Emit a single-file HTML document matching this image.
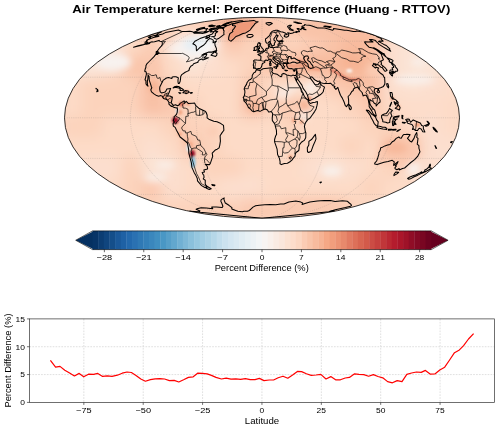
<!DOCTYPE html><html><head><meta charset="utf-8"><style>html,body{margin:0;padding:0;background:#fff;}svg{display:block;will-change:transform;}text{font-family:"Liberation Sans",sans-serif;}</style></head><body>
<svg width="500" height="429" viewBox="0 0 500 429">
<defs><clipPath id="ell"><ellipse cx="262.0" cy="117.8" rx="197.5" ry="100.5"/></clipPath>
<filter id="bl" x="-50%" y="-50%" width="200%" height="200%"><feGaussianBlur stdDeviation="7"/></filter>
<filter id="bl2" x="-50%" y="-50%" width="200%" height="200%"><feGaussianBlur stdDeviation="1.0"/></filter><filter id="bl3" x="-50%" y="-50%" width="200%" height="200%"><feGaussianBlur stdDeviation="3.5"/></filter>
</defs>
<text x="261.3" y="13.3" font-size="11.28" font-weight="bold" text-anchor="middle" textLength="378" lengthAdjust="spacingAndGlyphs">Air Temperature kernel: Percent Difference (Huang - RTTOV)</text>
<g clip-path="url(#ell)">
<ellipse cx="262.0" cy="117.8" rx="197.5" ry="100.5" fill="#fad8c6"/>
<g filter="url(#bl)">
<rect x="61.5" y="14.5" width="21" height="21.4" fill="#fbe6da"/>
<rect x="81.5" y="14.5" width="21" height="21.4" fill="#fae7dc"/>
<rect x="101.5" y="14.5" width="21" height="21.4" fill="#fae7dc"/>
<rect x="121.5" y="14.5" width="21" height="21.4" fill="#fdddcb"/>
<rect x="141.5" y="14.5" width="21" height="21.4" fill="#fcd3bc"/>
<rect x="161.5" y="14.5" width="21" height="21.4" fill="#fcd3bc"/>
<rect x="181.5" y="14.5" width="21" height="21.4" fill="#fcd3bc"/>
<rect x="201.5" y="14.5" width="21" height="21.4" fill="#fac8af"/>
<rect x="221.5" y="14.5" width="21" height="21.4" fill="#f3a481"/>
<rect x="241.5" y="14.5" width="21" height="21.4" fill="#f8bfa4"/>
<rect x="261.5" y="14.5" width="21" height="21.4" fill="#fac8af"/>
<rect x="281.5" y="14.5" width="21" height="21.4" fill="#fcd3bc"/>
<rect x="301.5" y="14.5" width="21" height="21.4" fill="#f8bfa4"/>
<rect x="321.5" y="14.5" width="21" height="21.4" fill="#f8bfa4"/>
<rect x="341.5" y="14.5" width="21" height="21.4" fill="#f8bfa4"/>
<rect x="361.5" y="14.5" width="21" height="21.4" fill="#f8bfa4"/>
<rect x="381.5" y="14.5" width="21" height="21.4" fill="#fac8af"/>
<rect x="401.5" y="14.5" width="21" height="21.4" fill="#fddbc7"/>
<rect x="421.5" y="14.5" width="21" height="21.4" fill="#fddbc7"/>
<rect x="441.5" y="14.5" width="21" height="21.4" fill="#fddbc7"/>
<rect x="61.5" y="34.9" width="21" height="21.4" fill="#fbe5d8"/>
<rect x="81.5" y="34.9" width="21" height="21.4" fill="#fae8de"/>
<rect x="101.5" y="34.9" width="21" height="21.4" fill="#fae7dc"/>
<rect x="121.5" y="34.9" width="21" height="21.4" fill="#fddbc7"/>
<rect x="141.5" y="34.9" width="21" height="21.4" fill="#fbccb4"/>
<rect x="161.5" y="34.9" width="21" height="21.4" fill="#fcdfcf"/>
<rect x="181.5" y="34.9" width="21" height="21.4" fill="#f8f2ef"/>
<rect x="201.5" y="34.9" width="21" height="21.4" fill="#fbe4d6"/>
<rect x="221.5" y="34.9" width="21" height="21.4" fill="#fac8af"/>
<rect x="241.5" y="34.9" width="21" height="21.4" fill="#fcd3bc"/>
<rect x="261.5" y="34.9" width="21" height="21.4" fill="#fbccb4"/>
<rect x="281.5" y="34.9" width="21" height="21.4" fill="#fcd3bc"/>
<rect x="301.5" y="34.9" width="21" height="21.4" fill="#fbccb4"/>
<rect x="321.5" y="34.9" width="21" height="21.4" fill="#f9c4a9"/>
<rect x="341.5" y="34.9" width="21" height="21.4" fill="#f8bb9e"/>
<rect x="361.5" y="34.9" width="21" height="21.4" fill="#f8bb9e"/>
<rect x="381.5" y="34.9" width="21" height="21.4" fill="#fcdfcf"/>
<rect x="401.5" y="34.9" width="21" height="21.4" fill="#fbe4d6"/>
<rect x="421.5" y="34.9" width="21" height="21.4" fill="#fce2d2"/>
<rect x="441.5" y="34.9" width="21" height="21.4" fill="#fcdecd"/>
<rect x="61.5" y="55.3" width="21" height="21.4" fill="#fce2d2"/>
<rect x="81.5" y="55.3" width="21" height="21.4" fill="#fae9df"/>
<rect x="101.5" y="55.3" width="21" height="21.4" fill="#fcdfcf"/>
<rect x="121.5" y="55.3" width="21" height="21.4" fill="#f9c4a9"/>
<rect x="141.5" y="55.3" width="21" height="21.4" fill="#fac8af"/>
<rect x="161.5" y="55.3" width="21" height="21.4" fill="#fddbc7"/>
<rect x="181.5" y="55.3" width="21" height="21.4" fill="#fbe4d6"/>
<rect x="201.5" y="55.3" width="21" height="21.4" fill="#fcdfcf"/>
<rect x="221.5" y="55.3" width="21" height="21.4" fill="#fddbc7"/>
<rect x="241.5" y="55.3" width="21" height="21.4" fill="#fcd3bc"/>
<rect x="261.5" y="55.3" width="21" height="21.4" fill="#f9c4a9"/>
<rect x="281.5" y="55.3" width="21" height="21.4" fill="#f8bb9e"/>
<rect x="301.5" y="55.3" width="21" height="21.4" fill="#f7b799"/>
<rect x="321.5" y="55.3" width="21" height="21.4" fill="#f8bb9e"/>
<rect x="341.5" y="55.3" width="21" height="21.4" fill="#f6af8e"/>
<rect x="361.5" y="55.3" width="21" height="21.4" fill="#f8bb9e"/>
<rect x="381.5" y="55.3" width="21" height="21.4" fill="#fcdfcf"/>
<rect x="401.5" y="55.3" width="21" height="21.4" fill="#fbe4d6"/>
<rect x="421.5" y="55.3" width="21" height="21.4" fill="#fbe4d6"/>
<rect x="441.5" y="55.3" width="21" height="21.4" fill="#fcdfcf"/>
<rect x="61.5" y="75.7" width="21" height="21.4" fill="#fddbc7"/>
<rect x="81.5" y="75.7" width="21" height="21.4" fill="#fcd3bc"/>
<rect x="101.5" y="75.7" width="21" height="21.4" fill="#fcd3bc"/>
<rect x="121.5" y="75.7" width="21" height="21.4" fill="#fcd3bc"/>
<rect x="141.5" y="75.7" width="21" height="21.4" fill="#f8bfa4"/>
<rect x="161.5" y="75.7" width="21" height="21.4" fill="#fcd3bc"/>
<rect x="181.5" y="75.7" width="21" height="21.4" fill="#fddbc7"/>
<rect x="201.5" y="75.7" width="21" height="21.4" fill="#fddbc7"/>
<rect x="221.5" y="75.7" width="21" height="21.4" fill="#fddbc7"/>
<rect x="241.5" y="75.7" width="21" height="21.4" fill="#fac8af"/>
<rect x="261.5" y="75.7" width="21" height="21.4" fill="#fddbc7"/>
<rect x="281.5" y="75.7" width="21" height="21.4" fill="#fddbc7"/>
<rect x="301.5" y="75.7" width="21" height="21.4" fill="#fddbc7"/>
<rect x="321.5" y="75.7" width="21" height="21.4" fill="#fbccb4"/>
<rect x="341.5" y="75.7" width="21" height="21.4" fill="#f9c4a9"/>
<rect x="361.5" y="75.7" width="21" height="21.4" fill="#f8bfa4"/>
<rect x="381.5" y="75.7" width="21" height="21.4" fill="#fcdfcf"/>
<rect x="401.5" y="75.7" width="21" height="21.4" fill="#fce2d2"/>
<rect x="421.5" y="75.7" width="21" height="21.4" fill="#fcdfcf"/>
<rect x="441.5" y="75.7" width="21" height="21.4" fill="#fdddcb"/>
<rect x="61.5" y="96.1" width="21" height="21.4" fill="#fddbc7"/>
<rect x="81.5" y="96.1" width="21" height="21.4" fill="#fcd3bc"/>
<rect x="101.5" y="96.1" width="21" height="21.4" fill="#fcd3bc"/>
<rect x="121.5" y="96.1" width="21" height="21.4" fill="#fcd3bc"/>
<rect x="141.5" y="96.1" width="21" height="21.4" fill="#f8bfa4"/>
<rect x="161.5" y="96.1" width="21" height="21.4" fill="#fac8af"/>
<rect x="181.5" y="96.1" width="21" height="21.4" fill="#fcd3bc"/>
<rect x="201.5" y="96.1" width="21" height="21.4" fill="#fddbc7"/>
<rect x="221.5" y="96.1" width="21" height="21.4" fill="#fddbc7"/>
<rect x="241.5" y="96.1" width="21" height="21.4" fill="#f8bfa4"/>
<rect x="261.5" y="96.1" width="21" height="21.4" fill="#fcd3bc"/>
<rect x="281.5" y="96.1" width="21" height="21.4" fill="#fac8af"/>
<rect x="301.5" y="96.1" width="21" height="21.4" fill="#fddbc7"/>
<rect x="321.5" y="96.1" width="21" height="21.4" fill="#fddbc7"/>
<rect x="341.5" y="96.1" width="21" height="21.4" fill="#fcd3bc"/>
<rect x="361.5" y="96.1" width="21" height="21.4" fill="#fac8af"/>
<rect x="381.5" y="96.1" width="21" height="21.4" fill="#fddbc7"/>
<rect x="401.5" y="96.1" width="21" height="21.4" fill="#fdddcb"/>
<rect x="421.5" y="96.1" width="21" height="21.4" fill="#fdddcb"/>
<rect x="441.5" y="96.1" width="21" height="21.4" fill="#fddbc7"/>
<rect x="61.5" y="116.5" width="21" height="21.4" fill="#fcd3bc"/>
<rect x="81.5" y="116.5" width="21" height="21.4" fill="#fcd3bc"/>
<rect x="101.5" y="116.5" width="21" height="21.4" fill="#fddbc7"/>
<rect x="121.5" y="116.5" width="21" height="21.4" fill="#fddbc7"/>
<rect x="141.5" y="116.5" width="21" height="21.4" fill="#fddbc7"/>
<rect x="161.5" y="116.5" width="21" height="21.4" fill="#fcd3bc"/>
<rect x="181.5" y="116.5" width="21" height="21.4" fill="#fcd3bc"/>
<rect x="201.5" y="116.5" width="21" height="21.4" fill="#fcd3bc"/>
<rect x="221.5" y="116.5" width="21" height="21.4" fill="#fddbc7"/>
<rect x="241.5" y="116.5" width="21" height="21.4" fill="#fddbc7"/>
<rect x="261.5" y="116.5" width="21" height="21.4" fill="#fddbc7"/>
<rect x="281.5" y="116.5" width="21" height="21.4" fill="#fcd3bc"/>
<rect x="301.5" y="116.5" width="21" height="21.4" fill="#fddbc7"/>
<rect x="321.5" y="116.5" width="21" height="21.4" fill="#fddbc7"/>
<rect x="341.5" y="116.5" width="21" height="21.4" fill="#fddbc7"/>
<rect x="361.5" y="116.5" width="21" height="21.4" fill="#fcd3bc"/>
<rect x="381.5" y="116.5" width="21" height="21.4" fill="#fcd3bc"/>
<rect x="401.5" y="116.5" width="21" height="21.4" fill="#fddbc7"/>
<rect x="421.5" y="116.5" width="21" height="21.4" fill="#fcdfcf"/>
<rect x="441.5" y="116.5" width="21" height="21.4" fill="#fddbc7"/>
<rect x="61.5" y="136.9" width="21" height="21.4" fill="#fddbc7"/>
<rect x="81.5" y="136.9" width="21" height="21.4" fill="#fddbc7"/>
<rect x="101.5" y="136.9" width="21" height="21.4" fill="#fddbc7"/>
<rect x="121.5" y="136.9" width="21" height="21.4" fill="#fddbc7"/>
<rect x="141.5" y="136.9" width="21" height="21.4" fill="#fcdfcf"/>
<rect x="161.5" y="136.9" width="21" height="21.4" fill="#fddbc7"/>
<rect x="181.5" y="136.9" width="21" height="21.4" fill="#fac8af"/>
<rect x="201.5" y="136.9" width="21" height="21.4" fill="#fcd3bc"/>
<rect x="221.5" y="136.9" width="21" height="21.4" fill="#fddbc7"/>
<rect x="241.5" y="136.9" width="21" height="21.4" fill="#fddbc7"/>
<rect x="261.5" y="136.9" width="21" height="21.4" fill="#fddbc7"/>
<rect x="281.5" y="136.9" width="21" height="21.4" fill="#fcd3bc"/>
<rect x="301.5" y="136.9" width="21" height="21.4" fill="#fddbc7"/>
<rect x="321.5" y="136.9" width="21" height="21.4" fill="#fddbc7"/>
<rect x="341.5" y="136.9" width="21" height="21.4" fill="#fcd3bc"/>
<rect x="361.5" y="136.9" width="21" height="21.4" fill="#fddbc7"/>
<rect x="381.5" y="136.9" width="21" height="21.4" fill="#f8bfa4"/>
<rect x="401.5" y="136.9" width="21" height="21.4" fill="#fac8af"/>
<rect x="421.5" y="136.9" width="21" height="21.4" fill="#fcdfcf"/>
<rect x="441.5" y="136.9" width="21" height="21.4" fill="#fcdfcf"/>
<rect x="61.5" y="157.3" width="21" height="21.4" fill="#fdddcb"/>
<rect x="81.5" y="157.3" width="21" height="21.4" fill="#fcdfcf"/>
<rect x="101.5" y="157.3" width="21" height="21.4" fill="#fcdfcf"/>
<rect x="121.5" y="157.3" width="21" height="21.4" fill="#fcd3bc"/>
<rect x="141.5" y="157.3" width="21" height="21.4" fill="#fbe4d6"/>
<rect x="161.5" y="157.3" width="21" height="21.4" fill="#fcdfcf"/>
<rect x="181.5" y="157.3" width="21" height="21.4" fill="#fddbc7"/>
<rect x="201.5" y="157.3" width="21" height="21.4" fill="#fcd3bc"/>
<rect x="221.5" y="157.3" width="21" height="21.4" fill="#fcd3bc"/>
<rect x="241.5" y="157.3" width="21" height="21.4" fill="#fddbc7"/>
<rect x="261.5" y="157.3" width="21" height="21.4" fill="#fddbc7"/>
<rect x="281.5" y="157.3" width="21" height="21.4" fill="#fddbc7"/>
<rect x="301.5" y="157.3" width="21" height="21.4" fill="#fcdfcf"/>
<rect x="321.5" y="157.3" width="21" height="21.4" fill="#fbe4d6"/>
<rect x="341.5" y="157.3" width="21" height="21.4" fill="#fcdfcf"/>
<rect x="361.5" y="157.3" width="21" height="21.4" fill="#fddbc7"/>
<rect x="381.5" y="157.3" width="21" height="21.4" fill="#fcd3bc"/>
<rect x="401.5" y="157.3" width="21" height="21.4" fill="#fcdfcf"/>
<rect x="421.5" y="157.3" width="21" height="21.4" fill="#fcdfcf"/>
<rect x="441.5" y="157.3" width="21" height="21.4" fill="#fcdfcf"/>
<rect x="61.5" y="177.7" width="21" height="21.4" fill="#fdddcb"/>
<rect x="81.5" y="177.7" width="21" height="21.4" fill="#fdddcb"/>
<rect x="101.5" y="177.7" width="21" height="21.4" fill="#fddbc7"/>
<rect x="121.5" y="177.7" width="21" height="21.4" fill="#fcd3bc"/>
<rect x="141.5" y="177.7" width="21" height="21.4" fill="#fac8af"/>
<rect x="161.5" y="177.7" width="21" height="21.4" fill="#fcdfcf"/>
<rect x="181.5" y="177.7" width="21" height="21.4" fill="#fddbc7"/>
<rect x="201.5" y="177.7" width="21" height="21.4" fill="#fddbc7"/>
<rect x="221.5" y="177.7" width="21" height="21.4" fill="#fcdfcf"/>
<rect x="241.5" y="177.7" width="21" height="21.4" fill="#fcdfcf"/>
<rect x="261.5" y="177.7" width="21" height="21.4" fill="#fddbc7"/>
<rect x="281.5" y="177.7" width="21" height="21.4" fill="#fddbc7"/>
<rect x="301.5" y="177.7" width="21" height="21.4" fill="#fddbc7"/>
<rect x="321.5" y="177.7" width="21" height="21.4" fill="#fddbc7"/>
<rect x="341.5" y="177.7" width="21" height="21.4" fill="#fddbc7"/>
<rect x="361.5" y="177.7" width="21" height="21.4" fill="#fcd3bc"/>
<rect x="381.5" y="177.7" width="21" height="21.4" fill="#fddbc7"/>
<rect x="401.5" y="177.7" width="21" height="21.4" fill="#fddbc7"/>
<rect x="421.5" y="177.7" width="21" height="21.4" fill="#fdddcb"/>
<rect x="441.5" y="177.7" width="21" height="21.4" fill="#fcdecd"/>
<rect x="61.5" y="198.1" width="21" height="21.4" fill="#fdddcb"/>
<rect x="81.5" y="198.1" width="21" height="21.4" fill="#fdddcb"/>
<rect x="101.5" y="198.1" width="21" height="21.4" fill="#fddcc9"/>
<rect x="121.5" y="198.1" width="21" height="21.4" fill="#fcd5bf"/>
<rect x="141.5" y="198.1" width="21" height="21.4" fill="#fcd3bc"/>
<rect x="161.5" y="198.1" width="21" height="21.4" fill="#fcd3bc"/>
<rect x="181.5" y="198.1" width="21" height="21.4" fill="#fcd3bc"/>
<rect x="201.5" y="198.1" width="21" height="21.4" fill="#fcd3bc"/>
<rect x="221.5" y="198.1" width="21" height="21.4" fill="#fcd3bc"/>
<rect x="241.5" y="198.1" width="21" height="21.4" fill="#fac8af"/>
<rect x="261.5" y="198.1" width="21" height="21.4" fill="#fcd3bc"/>
<rect x="281.5" y="198.1" width="21" height="21.4" fill="#fac8af"/>
<rect x="301.5" y="198.1" width="21" height="21.4" fill="#fac8af"/>
<rect x="321.5" y="198.1" width="21" height="21.4" fill="#fac8af"/>
<rect x="341.5" y="198.1" width="21" height="21.4" fill="#fcd3bc"/>
<rect x="361.5" y="198.1" width="21" height="21.4" fill="#fddbc7"/>
<rect x="381.5" y="198.1" width="21" height="21.4" fill="#fddbc7"/>
<rect x="401.5" y="198.1" width="21" height="21.4" fill="#fddbc7"/>
<rect x="421.5" y="198.1" width="21" height="21.4" fill="#fddcc9"/>
<rect x="441.5" y="198.1" width="21" height="21.4" fill="#fdddcb"/>
</g>
<g filter="url(#bl3)">
<path d="M189.6,211.3L194.7,211.5L199.4,211.7L200.0,210.9L196.1,209.3L198.0,208.4L201.1,207.8L206.4,208.0L212.8,208.7L211.7,207.1L216.4,207.0L222.2,207.4L222.9,206.2L221.9,203.5L220.8,201.1L221.2,199.6L224.2,197.9L223.9,199.1L224.5,201.1L225.3,203.0L228.9,205.3L231.9,207.6L231.8,208.9L235.7,210.5L237.9,211.3L242.4,211.7L243.9,211.3L247.5,211.3L249.3,210.5L250.6,209.3L253.0,207.1L255.6,205.8L259.3,205.3L264.8,204.7L270.3,204.4L275.8,204.7L280.6,204.0L284.0,204.0L288.9,202.1L295.8,201.1L300.9,202.1L302.7,203.0L302.1,204.4L305.0,203.5L309.9,202.1L317.3,201.1L324.2,200.6L330.4,200.6L335.1,201.4L342.5,200.8L347.5,201.3L349.3,203.0L351.0,204.4L351.5,205.3L350.6,206.2L345.4,207.6L335.3,209.7L331.0,210.9L329.3,211.5L334.4,211.3L262.0,218.3L262.0,218.3Z" fill="#facab1"/>
<path d="M380.7,147.8L381.7,147.6L384.9,145.9L387.6,145.1L390.0,144.5L392.2,141.8L393.8,141.1L396.2,138.4L398.8,137.0L400.1,138.1L401.2,138.2L402.6,135.7L403.7,134.6L405.5,134.4L407.0,134.3L409.5,134.4L410.1,134.7L407.5,138.4L408.7,139.7L410.5,141.6L411.7,141.9L414.0,138.4L415.2,135.0L416.7,132.5L417.1,135.0L416.7,137.4L418.0,138.4L417.6,141.8L417.2,144.1L418.9,145.7L418.9,148.2L419.4,149.8L420.0,151.8L417.6,156.4L414.6,159.7L410.8,162.5L408.4,164.6L404.6,168.0L402.5,168.4L399.3,169.9L399.2,168.5L396.9,169.7L395.1,168.7L394.9,167.8L396.4,165.9L395.2,165.6L396.8,164.2L398.1,161.6L396.1,163.2L393.7,165.4L393.7,164.6L394.3,161.9L392.2,160.3L388.1,161.4L384.0,162.3L380.9,163.3L377.1,164.6L374.8,164.1L374.7,163.1L376.6,161.0L377.8,157.7L379.0,153.8L378.7,152.9L380.1,150.5Z" fill="#fac8af"/>
<path d="M232.1,35.0L232.6,38.0L240.9,31.2L246.0,25.9L246.0,23.5L240.7,25.9Z" fill="#df765e"/>
<path d="M166.4,50.0L173.4,53.5L183.3,57.1L192.3,59.5L203.6,58.3L213.7,52.4L217.8,45.5L217.4,40.1L215.0,37.0L212.3,34.0L204.4,34.0L191.5,37.0L176.6,42.3Z" fill="#f8f2ef"/>
<ellipse cx="197.5" cy="44.4" rx="14" ry="7" fill="#e4eef4"/>
<ellipse cx="205.3" cy="47.8" rx="7" ry="5" fill="#f7f6f6"/>
<ellipse cx="113.3" cy="62.0" rx="18" ry="9" fill="#f8f2ef"/>
<ellipse cx="259.4" cy="29.4" rx="12" ry="4" fill="#f9c4a9"/>
<ellipse cx="153.2" cy="66.9" rx="6" ry="8" fill="#fac8af"/>
<ellipse cx="153.6" cy="86.4" rx="5" ry="6" fill="#f6af8e"/>
<ellipse cx="164.1" cy="37.0" rx="8" ry="3" fill="#fbccb4"/>
<ellipse cx="180.2" cy="128.8" rx="3" ry="4" fill="#f7b799"/>
<ellipse cx="187.0" cy="139.7" rx="3" ry="4" fill="#f6af8e"/>
<ellipse cx="191.5" cy="146.5" rx="3" ry="3" fill="#f6af8e"/>
<ellipse cx="213.1" cy="131.5" rx="4" ry="4" fill="#fac8af"/>
<ellipse cx="301.7" cy="66.9" rx="18" ry="5" fill="#f8bb9e"/>
<ellipse cx="304.5" cy="105.4" rx="4.5" ry="5" fill="#f3a481"/>
<ellipse cx="311.2" cy="87.8" rx="8" ry="6" fill="#f9eee7"/>
<ellipse cx="283.3" cy="93.2" rx="8" ry="5" fill="#f9ebe3"/>
<ellipse cx="293.4" cy="87.8" rx="5" ry="4" fill="#f9ebe3"/>
<ellipse cx="303.7" cy="116.4" rx="4" ry="4" fill="#f8f4f2"/>
<path d="M246.8,102.7L251.2,100.6L256.6,103.4L262.0,104.7L264.2,108.2L258.7,110.9L253.2,111.6L248.9,108.2Z" fill="#f6b394"/>
<ellipse cx="272.2" cy="39.1" rx="5" ry="5" fill="#fac8af"/>
<ellipse cx="309.3" cy="31.2" rx="25" ry="4" fill="#f9c4a9"/>
<ellipse cx="345.6" cy="73.3" rx="15" ry="5" fill="#f8bb9e"/>
<ellipse cx="373.5" cy="70.7" rx="8" ry="6" fill="#fbccb4"/>
<ellipse cx="414.4" cy="79.8" rx="20" ry="5" fill="#f9f0eb"/>
<ellipse cx="418.9" cy="62.0" rx="8" ry="5" fill="#f9eee7"/>
<ellipse cx="365.5" cy="90.5" rx="5" ry="5" fill="#f9c4a9"/>
<ellipse cx="387.1" cy="116.4" rx="4" ry="3" fill="#fac8af"/>
<ellipse cx="396.0" cy="147.8" rx="12" ry="6" fill="#f7b799"/>
<ellipse cx="413.4" cy="168.7" rx="6" ry="6" fill="#f8f2ef"/>
<ellipse cx="331.7" cy="171.2" rx="10" ry="4" fill="#f8f2ef"/>
<ellipse cx="155.9" cy="177.3" rx="12" ry="4" fill="#f9eee7"/>
<ellipse cx="165.0" cy="164.9" rx="10" ry="4" fill="#f9eee7"/>
</g>
<g filter="url(#bl2)">
<path d="M232.6,24.3L240.0,22.1L243.4,21.4L248.7,21.0L253.9,20.4L255.8,21.4L258.1,21.7L255.4,23.2L253.9,25.1L251.8,27.6L250.3,29.8L248.4,31.2L245.6,32.9L242.9,33.5L238.7,35.5L235.9,36.5L233.4,39.1L231.1,41.2L230.0,40.6L228.6,39.6L228.7,37.5L229.2,35.5L230.0,33.5L232.9,31.6L232.4,30.4L233.8,28.9L235.6,26.3L234.7,25.7L232.5,25.5Z" fill="#ef9979"/>
<ellipse cx="186.7" cy="91.8" rx="2" ry="1.5" fill="#ef9979"/>
<ellipse cx="169.3" cy="99.3" rx="2" ry="1.5" fill="#ef9979"/>
<ellipse cx="188.1" cy="104.1" rx="2" ry="1.5" fill="#ef9979"/>
<ellipse cx="164.4" cy="96.5" rx="2.5" ry="2" fill="#ef9979"/>
<ellipse cx="175.3" cy="120.3" rx="3.2" ry="3.4" fill="#991027"/>
<ellipse cx="179.8" cy="112.3" rx="2.5" ry="2.5" fill="#f3a481"/>
<ellipse cx="392.3" cy="98.6" rx="2" ry="2" fill="#f3a481"/>
<ellipse cx="398.3" cy="106.8" rx="2" ry="2" fill="#f6af8e"/>
<ellipse cx="192.3" cy="153.8" rx="2.8" ry="3.8" fill="#991027"/>
<ellipse cx="181.6" cy="104.1" rx="2.6" ry="2.6" fill="#df765e"/>
<ellipse cx="179.7" cy="134.3" rx="2" ry="2" fill="#f3a481"/>
<ellipse cx="190.2" cy="145.1" rx="2" ry="3" fill="#f3a481"/>
<ellipse cx="193.1" cy="162.3" rx="2.5" ry="6" fill="#90c4dd"/>
<ellipse cx="188.2" cy="147.8" rx="1.8" ry="4" fill="#ddebf2"/>
<ellipse cx="177.2" cy="110.9" rx="1.3" ry="3" fill="#d7e8f1"/>
<ellipse cx="270.7" cy="57.1" rx="2.5" ry="1.5" fill="#f3a481"/>
<ellipse cx="309.4" cy="98.6" rx="2" ry="2" fill="#ea8e70"/>
<ellipse cx="301.5" cy="121.9" rx="2" ry="2" fill="#f3a481"/>
<ellipse cx="293.8" cy="120.6" rx="2" ry="2" fill="#f3a481"/>
<ellipse cx="290.3" cy="157.1" rx="2" ry="2" fill="#f3a481"/>
<path d="M331.5,70.1L337.5,72.7L343.0,76.5L348.1,79.2L352.4,79.8L356.5,79.8L359.2,79.2" fill="none" stroke="#df765e" stroke-width="2.4" stroke-linecap="round" stroke-linejoin="round"/>
<path d="M287.3,65.7L295.0,66.3L301.2,65.1L305.2,65.7L309.7,68.2L314.7,68.8L319.7,69.5" fill="none" stroke="#ef9979" stroke-width="2.6" stroke-linecap="round" stroke-linejoin="round"/>
<path d="M298.1,60.7L301.9,61.3L306.0,62.6" fill="none" stroke="#ea8e70" stroke-width="2.2" stroke-linecap="round" stroke-linejoin="round"/>
<path d="M326.5,63.2L331.3,62.0L336.1,60.7L341.5,60.7" fill="none" stroke="#f7b799" stroke-width="2.0" stroke-linecap="round" stroke-linejoin="round"/>
<path d="M332.8,52.4L337.9,53.5L341.1,52.4L344.2,51.2" fill="none" stroke="#f7b799" stroke-width="2.0" stroke-linecap="round" stroke-linejoin="round"/>
<ellipse cx="349.3" cy="70.7" rx="3" ry="2" fill="#f9eee7"/>
<ellipse cx="417.4" cy="124.7" rx="3" ry="2" fill="#f3a481"/>
</g>
<path d="M134.2,194.4L389.8,194.4M81.3,158.4L442.7,158.4M64.5,117.8L459.5,117.8M81.3,77.2L442.7,77.2M134.2,41.2L389.8,41.2M262.0,218.3L242.6,217.2L231.3,215.5L221.9,213.5L213.7,211.3L206.3,208.9L199.5,206.2L193.2,203.5L187.3,200.6L181.9,197.6L176.8,194.4L172.0,191.2L167.6,187.8L163.4,184.4L159.5,180.9L155.9,177.3L152.5,173.6L149.4,169.9L146.6,166.1L143.9,162.3L141.6,158.4L139.4,154.5L137.5,150.5L135.8,146.5L134.4,142.4L133.1,138.4L132.1,134.3L131.3,130.2L130.8,126.1L130.4,121.9L130.3,117.8L130.4,113.7L130.8,109.5L131.3,105.4L132.1,101.3L133.1,97.2L134.4,93.2L135.8,89.1L137.5,85.1L139.4,81.1L141.6,77.2L143.9,73.3L146.6,69.5L149.4,65.7L152.5,62.0L155.9,58.3L159.5,54.7L163.4,51.2L167.6,47.8L172.0,44.4L176.8,41.2L181.9,38.0L187.3,35.0L193.2,32.1L199.5,29.4L206.3,26.7L213.7,24.3L221.9,22.1L231.3,20.1L242.6,18.4L262.0,17.3M262.0,218.3L252.3,217.2L246.6,215.5L242.0,213.5L237.9,211.3L234.1,208.9L230.7,206.2L227.6,203.5L224.7,200.6L221.9,197.6L219.4,194.4L217.0,191.2L214.8,187.8L212.7,184.4L210.8,180.9L208.9,177.3L207.3,173.6L205.7,169.9L204.3,166.1L203.0,162.3L201.8,158.4L200.7,154.5L199.7,150.5L198.9,146.5L198.2,142.4L197.6,138.4L197.1,134.3L196.7,130.2L196.4,126.1L196.2,121.9L196.2,117.8L196.2,113.7L196.4,109.5L196.7,105.4L197.1,101.3L197.6,97.2L198.2,93.2L198.9,89.1L199.7,85.1L200.7,81.1L201.8,77.2L203.0,73.3L204.3,69.5L205.7,65.7L207.3,62.0L208.9,58.3L210.8,54.7L212.7,51.2L214.8,47.8L217.0,44.4L219.4,41.2L221.9,38.0L224.7,35.0L227.6,32.1L230.7,29.4L234.1,26.7L237.9,24.3L242.0,22.1L246.6,20.1L252.3,18.4L262.0,17.3M262.0,218.3L262.0,217.2L262.0,215.5L262.0,213.5L262.0,211.3L262.0,208.9L262.0,206.2L262.0,203.5L262.0,200.6L262.0,197.6L262.0,194.4L262.0,191.2L262.0,187.8L262.0,184.4L262.0,180.9L262.0,177.3L262.0,173.6L262.0,169.9L262.0,166.1L262.0,162.3L262.0,158.4L262.0,154.5L262.0,150.5L262.0,146.5L262.0,142.4L262.0,138.4L262.0,134.3L262.0,130.2L262.0,126.1L262.0,121.9L262.0,117.8L262.0,113.7L262.0,109.5L262.0,105.4L262.0,101.3L262.0,97.2L262.0,93.2L262.0,89.1L262.0,85.1L262.0,81.1L262.0,77.2L262.0,73.3L262.0,69.5L262.0,65.7L262.0,62.0L262.0,58.3L262.0,54.7L262.0,51.2L262.0,47.8L262.0,44.4L262.0,41.2L262.0,38.0L262.0,35.0L262.0,32.1L262.0,29.4L262.0,26.7L262.0,24.3L262.0,22.1L262.0,20.1L262.0,18.4L262.0,17.3M262.0,218.3L271.7,217.2L277.4,215.5L282.0,213.5L286.1,211.3L289.9,208.9L293.3,206.2L296.4,203.5L299.3,200.6L302.1,197.6L304.6,194.4L307.0,191.2L309.2,187.8L311.3,184.4L313.2,180.9L315.1,177.3L316.7,173.6L318.3,169.9L319.7,166.1L321.0,162.3L322.2,158.4L323.3,154.5L324.3,150.5L325.1,146.5L325.8,142.4L326.4,138.4L326.9,134.3L327.3,130.2L327.6,126.1L327.8,121.9L327.8,117.8L327.8,113.7L327.6,109.5L327.3,105.4L326.9,101.3L326.4,97.2L325.8,93.2L325.1,89.1L324.3,85.1L323.3,81.1L322.2,77.2L321.0,73.3L319.7,69.5L318.3,65.7L316.7,62.0L315.1,58.3L313.2,54.7L311.3,51.2L309.2,47.8L307.0,44.4L304.6,41.2L302.1,38.0L299.3,35.0L296.4,32.1L293.3,29.4L289.9,26.7L286.1,24.3L282.0,22.1L277.4,20.1L271.7,18.4L262.0,17.3M262.0,218.3L281.4,217.2L292.7,215.5L302.1,213.5L310.3,211.3L317.7,208.9L324.5,206.2L330.8,203.5L336.7,200.6L342.1,197.6L347.2,194.4L352.0,191.2L356.4,187.8L360.6,184.4L364.5,180.9L368.1,177.3L371.5,173.6L374.6,169.9L377.4,166.1L380.1,162.3L382.4,158.4L384.6,154.5L386.5,150.5L388.2,146.5L389.6,142.4L390.9,138.4L391.9,134.3L392.7,130.2L393.2,126.1L393.6,121.9L393.7,117.8L393.6,113.7L393.2,109.5L392.7,105.4L391.9,101.3L390.9,97.2L389.6,93.2L388.2,89.1L386.5,85.1L384.6,81.1L382.4,77.2L380.1,73.3L377.4,69.5L374.6,65.7L371.5,62.0L368.1,58.3L364.5,54.7L360.6,51.2L356.4,47.8L352.0,44.4L347.2,41.2L342.1,38.0L336.7,35.0L330.8,32.1L324.5,29.4L317.7,26.7L310.3,24.3L302.1,22.1L292.7,20.1L281.4,18.4L262.0,17.3" fill="none" stroke="#777" stroke-width="0.6" stroke-dasharray="1.1,1.1" opacity="0.35"/>
<path d="M158.0,53.5L181.7,53.5L182.1,53.1L185.5,54.7L188.5,56.5L189.3,57.9L187.5,60.9L186.3,61.8L190.5,61.0L190.9,60.4L193.3,60.0L195.7,58.3L198.8,58.3L200.5,57.1L202.5,55.4L203.4,55.5L202.5,57.5L202.6,58.5M182.6,31.6L162.5,40.9L163.1,41.3L162.9,42.0L165.4,41.4L164.3,42.9L162.1,45.5L161.8,46.3M146.4,74.0L148.9,73.7L151.5,75.5L154.3,75.5L154.7,74.9L156.3,74.9L156.9,77.7L158.0,78.5L160.0,77.5L160.6,80.5L162.1,82.6M162.8,97.9L163.5,95.9L165.3,95.3L164.5,94.1L167.0,93.4L168.2,92.5M167.0,93.4L166.5,96.0L167.5,96.3M166.5,96.0L165.8,98.0L164.9,98.9M165.8,98.0L167.3,99.4M167.7,100.1L169.4,98.6L172.6,97.2M169.1,102.5L171.2,102.8M171.6,106.7L172.2,104.6M177.6,106.9L176.9,107.9M186.2,90.9L185.8,93.0M183.7,102.5L182.5,105.1L183.0,106.8L183.0,108.0L185.5,108.2L188.0,109.3L188.2,113.0L187.7,113.9L188.4,116.1L185.8,116.4L185.5,123.6M185.3,123.6L183.0,121.1L180.8,119.2L179.4,117.9L177.5,117.1L175.6,115.9M179.4,117.9L179.1,119.9L176.7,121.9L175.8,124.1L174.0,122.5M185.3,123.6L182.2,126.7L181.6,128.1L183.1,130.9L185.3,130.9L185.4,132.9L187.2,132.9L187.4,136.3L188.0,139.1L187.6,141.8L187.2,142.8M187.7,113.9L191.9,112.3L193.2,112.3L195.8,111.1L195.5,106.4M195.8,111.1L196.2,115.0L199.5,115.5L202.8,114.6L205.5,112.0M199.5,115.5L199.7,109.5M202.8,114.6L202.9,110.0M187.2,132.9L190.9,131.3L191.6,134.3L196.2,136.3L197.8,140.1L199.7,140.1L200.4,143.1L200.5,144.9L196.4,145.8L196.4,148.1L194.0,148.0L191.9,148.9L190.4,147.2L189.1,143.8L187.9,141.8M200.6,144.5L200.9,145.8L203.6,148.2L205.8,152.6L207.1,154.6L205.4,156.0L204.3,158.7L206.5,159.6L209.7,163.2M204.3,158.7L204.9,163.4M196.4,148.1L199.7,150.2L202.7,152.2L202.2,154.9L204.9,154.9L205.8,152.6M191.9,148.9L191.1,151.2L192.0,154.5L191.9,158.4L193.1,162.3L194.2,166.1L195.4,169.9L196.6,173.6L198.3,176.7L199.9,180.3L200.8,182.7L202.6,184.4L205.8,185.8M254.0,62.0L254.5,61.8L256.0,62.1L255.6,63.2L255.4,64.8L255.0,66.7L254.9,68.0M260.4,60.2L262.6,61.0L264.9,61.5M264.1,51.1L265.5,52.4L266.9,52.9L267.2,52.9L268.9,53.5L268.5,55.2L267.2,56.7L268.1,57.2L268.7,59.8M264.8,50.7L266.8,50.3L266.9,50.2L267.5,48.6M266.9,50.2L267.0,51.4L267.2,52.9M268.7,46.8L269.6,46.9M273.2,47.9L273.7,49.5L274.3,51.1L272.0,52.0L273.7,53.8L273.2,55.3L271.0,55.3L270.2,55.3L268.5,55.2M268.1,57.2L269.8,56.5L271.0,56.0L270.2,55.3M271.0,56.0L272.5,55.9L273.9,56.5L275.9,56.3L276.0,56.0L276.5,54.7L276.3,54.0L274.7,53.5L273.7,53.8M273.9,56.5L274.0,57.7L275.6,57.3L276.3,56.5L278.6,57.1L280.3,56.7L280.8,54.2L278.1,54.9L276.4,54.6M274.3,51.1L275.7,52.0L277.8,52.9L281.0,53.4L281.9,51.8L280.9,49.5L280.5,47.9L279.8,47.3L277.3,47.3M276.3,54.0L277.8,52.9M280.8,54.2L281.0,53.4M275.9,58.1L278.8,58.3L279.3,59.5L278.8,61.2M280.3,56.7L281.0,58.5L282.2,59.3L282.7,60.5L282.4,61.6M282.2,59.3L284.4,59.9L286.1,59.4L287.6,59.9M280.8,54.2L283.2,54.8L284.7,54.5L286.4,56.1L286.8,57.7L288.1,57.8M282.4,61.6L284.0,62.6L285.9,62.3L287.5,62.0M285.9,62.3L286.2,63.3M279.7,62.1L280.8,61.7L280.9,63.2L280.6,64.8M280.9,63.2L282.8,63.1L284.0,62.6M280.8,61.7L282.4,61.6M278.8,58.3L280.3,59.5L280.8,61.7M278.0,45.5L282.4,45.9M280.0,43.5L282.4,43.9L282.1,41.8M282.4,45.9L283.5,45.4L286.6,46.6L287.2,48.9L288.4,49.8M280.5,47.9L282.3,46.0M281.2,50.5L283.1,50.2L287.0,50.8L288.4,49.8L290.1,50.4L291.4,51.9L293.8,52.4L295.5,52.8L296.0,54.9L295.0,55.8M284.7,54.5L286.5,54.5L288.1,56.5L288.1,57.8M281.5,40.6L283.1,38.1L281.6,37.0L280.4,35.0L278.6,31.6L277.4,30.3M277.1,35.2L276.0,33.2L274.0,32.1L276.9,32.5L276.8,31.3L278.3,32.0M270.3,42.3L270.7,40.1L270.1,37.5L271.1,35.5L271.5,33.2L272.8,32.6L274.0,32.1M256.2,46.6L257.1,47.7M298.0,60.2L301.0,61.3L304.5,62.2L306.3,62.2M300.0,62.6L302.0,63.1L303.6,63.2L304.5,62.2M302.0,63.1L303.1,65.2L304.7,68.0L302.4,68.1L298.3,68.5L296.7,68.7M303.6,63.2L305.6,65.7L307.2,66.3L308.1,66.4M304.7,68.0L306.1,70.7L307.3,73.3L309.4,75.3L310.2,77.2M302.4,68.1L301.9,71.5L300.6,74.2L298.8,75.3L300.1,77.2L298.7,77.9L297.3,78.0M300.6,74.2L303.9,75.9L308.9,78.4L310.5,78.5M296.9,71.3L297.7,71.8L297.2,73.7L297.3,75.3L297.2,77.9M297.2,73.7L300.6,74.2M307.8,95.3L309.4,94.0L312.2,94.5L317.1,91.8L320.2,87.8L319.6,86.8L316.2,86.4L315.5,84.7M317.1,91.8L318.6,95.1M320.2,87.8L320.2,84.4M313.4,67.8L315.9,66.7L318.1,67.6L320.4,68.7L321.6,72.0L322.4,75.3L323.4,75.4L325.0,78.0L324.6,79.6L326.5,81.7L325.5,83.5M325.0,78.0L328.8,77.3L331.0,75.1L331.1,72.7L331.2,71.1L330.5,68.8L333.1,68.2M320.4,68.7L323.5,68.0L326.6,68.0L328.5,67.4L329.7,67.1L333.2,67.7M303.6,58.3L304.1,56.4L301.6,54.1L301.3,51.9L303.6,50.5L307.4,51.7L310.1,51.2L312.3,51.4L311.8,50.0L310.9,49.5L310.0,47.8L312.7,47.1L315.2,46.3L320.1,48.1L322.2,47.8L324.3,48.9L327.7,51.2L330.6,51.2L333.6,52.8L335.5,53.3M335.5,53.3L335.9,55.9L334.5,57.7L332.7,58.3L335.0,61.7M335.0,61.7L330.6,60.7L329.3,60.7L326.6,61.6L325.4,62.8L321.7,60.9L317.7,60.1L313.4,57.6L311.5,58.3L313.3,62.8M313.3,62.8L314.6,61.2L318.1,62.9L319.9,64.4L323.3,66.4L325.3,67.7M326.6,68.0L326.6,66.7L325.5,65.1L327.6,64.6L329.6,63.8L326.6,61.6M327.4,65.1L330.8,65.2M330.8,65.2L332.4,63.9L335.0,61.7M335.9,53.3L336.6,51.9L339.8,51.8L341.4,50.0L345.5,50.8L349.9,52.0L352.5,52.9L355.9,52.9L358.4,52.6L358.8,52.6M335.9,53.3L341.6,57.7L346.6,59.1L349.9,61.1L353.7,61.3L358.2,62.5L359.6,61.3L362.0,59.9L360.9,58.3L363.4,56.6L365.8,56.3L363.4,55.3L358.8,52.6M358.8,52.6L360.7,52.9L359.9,50.6L358.6,48.6L362.2,48.9L368.6,52.7L372.5,53.8L376.8,54.5L379.6,58.3L378.1,58.5L380.6,60.9L380.7,61.5M380.7,61.5L378.8,62.0L378.1,63.2L377.6,64.6M381.6,67.2L382.8,66.2M330.8,65.2L333.3,67.6L333.2,67.7L337.1,70.1M337.1,70.1L334.3,72.0L336.4,74.2L336.3,75.9L335.8,77.3L334.2,80.1L333.7,81.8L335.0,83.5L333.3,84.7M337.1,70.1L340.5,74.0L340.2,75.3L343.2,76.9L346.2,78.2L349.4,79.8L351.5,80.0L355.5,79.8L358.3,78.5L360.7,79.6M343.2,76.9L343.0,78.8L347.1,80.6L352.2,81.8L351.5,80.0M355.3,88.0L353.9,85.1L353.0,83.8L354.2,82.5L356.9,83.5L356.9,85.1L358.0,85.8L359.3,88.9M360.7,79.6L359.4,81.5L360.0,85.8L359.5,87.5L359.3,88.9M360.7,79.6L363.4,83.1L363.2,85.1L365.7,87.8L368.0,88.0L368.8,87.2L372.6,86.7L375.3,88.4M368.0,88.0L367.5,89.9L365.8,92.5L367.8,95.6L368.6,101.3L369.8,103.6M367.5,89.9L369.2,91.1L369.5,93.4L370.8,93.3L373.4,93.8L375.3,97.2L375.5,98.2L372.4,98.6L373.2,100.9M368.8,87.2L371.6,89.8L373.0,92.5L377.5,97.2L377.6,97.9L377.0,102.7L375.5,103.5M375.5,98.2L377.6,97.9M371.5,109.0L373.6,109.3M416.6,121.4L415.5,130.3M382.2,115.2L384.9,115.7L387.6,115.7L389.1,113.0L390.7,112.0M260.3,71.0L260.3,74.0L258.4,75.1L257.0,76.8L253.2,78.9L253.1,80.2L253.1,82.5L249.7,82.5L249.5,85.8L248.5,85.8L248.3,88.7L244.1,88.7M253.1,80.7L257.0,83.8L263.3,89.1L266.4,91.7L272.1,85.1L274.4,85.8L277.6,86.4L278.3,89.8L276.6,99.1M257.0,83.8L255.7,89.1L256.1,95.2L249.7,96.7L248.6,97.4L244.3,95.6M249.7,96.7L249.7,100.8L247.2,100.5L243.9,100.8M243.9,99.3L247.1,99.3L247.1,99.7L244.0,99.8M247.2,100.5L245.7,102.7M249.7,100.8L252.3,101.2L253.1,103.4L253.3,106.1L252.7,107.2L253.8,111.7M247.7,104.2L249.9,104.1L250.6,106.1L249.5,108.3M253.1,103.4L256.0,103.5L257.7,99.3L261.5,97.2L264.1,100.6L264.5,101.6L265.9,101.7M256.0,103.5L259.0,104.6L258.5,110.8M259.0,104.6L261.9,102.5L263.0,102.7L264.5,101.6M263.3,109.4L262.0,102.7M263.7,109.3L263.0,102.7M265.0,109.0L265.9,103.8L265.9,101.7L270.6,99.9L273.3,99.5L276.6,99.1M271.3,111.3L274.0,108.2L275.6,106.0L276.8,103.4L277.7,100.6L276.6,99.1M266.4,91.7L266.5,95.2L262.5,97.2L261.5,97.2M270.0,68.3L270.0,71.3L270.9,74.5L271.5,76.8L272.2,79.8L272.1,85.1M273.3,73.1L272.1,75.0L271.5,76.8M286.8,75.1L288.2,87.8L288.4,90.5L287.4,91.1L277.6,85.8M288.2,87.8L300.7,87.8M287.4,91.1L286.2,98.6L286.3,102.7L282.7,105.4L278.9,107.5L277.7,100.6M278.9,107.5L277.9,111.6L279.8,114.8M272.7,114.6L274.4,114.8L279.8,114.8L282.3,113.0L286.1,112.0L289.4,110.9L292.0,110.8M286.3,102.7L287.6,105.8L292.0,110.8M287.6,105.8L291.4,104.6L294.6,103.6L297.2,101.3L299.0,104.7L300.8,110.4M292.0,110.8L296.0,112.7L299.2,112.0L300.8,110.4M300.7,87.8L303.0,93.2L301.3,98.2L299.0,104.7M301.3,98.2L303.9,97.8L306.8,99.3L308.5,100.4M307.9,100.6L308.4,102.7L309.9,105.4L314.1,106.8L311.3,110.9L308.0,112.3M300.8,110.4L303.6,112.8L306.9,112.3L308.0,112.3M306.9,112.3L307.0,120.1M299.2,112.0L300.3,115.7L299.3,119.2M296.0,112.7L294.9,116.0L294.5,119.7L299.3,119.2L304.9,124.3M293.8,121.7L295.8,121.1L295.3,124.0M294.1,124.0L295.4,129.2L293.1,129.5L293.3,133.6L294.0,135.7L291.8,134.3L288.0,132.9L285.9,132.9L285.8,127.7L281.3,128.8L280.0,125.9L275.3,126.1M282.3,113.0L281.4,118.5L279.8,121.2L278.9,123.9L275.7,124.7M274.4,114.8L276.3,116.1L277.4,120.6L275.1,123.3L274.1,123.0M274.6,141.5L276.9,141.6L281.7,141.8L284.3,142.4L286.7,141.8L288.9,142.2M285.9,132.9L287.9,135.7L285.6,139.7L286.7,141.8M295.4,129.2L297.9,130.9L297.7,135.0L297.0,137.0L294.5,139.1M297.9,130.9L299.4,133.6L300.2,137.0L299.4,140.4L297.5,137.0M299.4,133.6L302.6,133.6L306.0,132.2M294.5,139.1L297.1,140.4L296.9,144.5L296.1,147.2L294.7,148.4M294.5,139.1L291.9,140.4L288.9,142.2L289.5,144.5L292.3,148.1L294.7,148.4M284.3,142.4L284.0,147.8L282.9,147.8L282.7,151.6M282.7,151.6L284.6,153.1L288.2,152.6L290.0,150.5L292.3,148.1M282.7,151.6L282.3,156.3L278.7,156.6M294.7,148.4L295.2,150.5L294.7,154.2M289.2,157.7L290.9,156.6L291.5,158.1L290.0,159.2L289.2,157.7" fill="none" stroke="#000" stroke-width="0.72" stroke-linejoin="round"/>
<path d="M319.9,182.3L321.5,182.1L320.5,182.9ZM205.5,32.1L207.8,31.6L205.9,32.6L204.4,32.8ZM217.1,25.9L219.9,25.5L216.9,26.6L216.6,26.3ZM218.4,26.3L220.1,26.1L217.8,27.0ZM209.0,25.5L212.4,25.1L210.5,25.9ZM222.8,27.9L224.0,28.0L222.5,28.6ZM205.7,38.6L207.7,38.2L207.6,37.7ZM256.3,69.7L260.1,70.6L263.0,68.8L264.9,68.5L267.7,68.2L271.0,67.8L272.5,68.2L271.9,69.5L272.6,70.1L271.7,71.6L272.8,73.1L273.8,73.4L277.0,74.2L278.9,75.6L281.0,76.8L281.9,75.9L281.8,74.5L283.3,73.4L284.7,73.8L286.8,74.9L289.4,75.5L291.4,75.9L292.8,75.1L294.2,75.6L296.0,75.5L297.1,77.9L296.9,79.8L296.8,80.1L295.9,79.0L294.7,77.3L296.1,80.5L296.8,81.8L298.8,85.1L300.6,87.8L301.5,91.8L303.0,93.2L304.4,96.5L306.2,98.6L308.5,100.4L308.8,102.0L310.3,103.5L313.0,102.5L315.1,102.3L317.4,101.6L317.4,103.4L317.0,105.4L316.1,108.9L314.6,111.6L312.4,114.8L309.7,118.5L308.1,119.2L307.0,120.6L305.8,122.3L304.9,124.3L304.4,126.7L304.9,128.8L305.3,131.5L305.9,132.9L305.7,137.7L304.2,140.4L301.4,142.2L299.2,145.1L299.2,147.8L298.8,150.5L296.0,152.5L295.4,153.8L294.9,156.4L293.1,158.4L291.9,160.1L289.6,162.0L287.4,163.3L284.5,163.6L281.4,164.6L280.0,163.8L280.1,161.6L279.4,158.4L277.6,154.5L277.1,149.2L276.0,145.8L274.6,141.8L274.6,139.5L275.5,136.3L276.6,134.3L276.4,130.2L275.3,126.1L275.1,124.7L274.1,123.0L272.4,120.6L272.2,118.5L272.4,116.4L272.7,113.7L271.9,112.3L271.3,111.6L269.1,111.9L268.6,111.9L267.5,110.1L265.3,109.1L263.1,109.7L260.9,110.9L259.8,111.3L257.6,110.6L253.8,111.7L252.1,110.9L250.0,108.7L248.4,107.5L247.5,105.4L246.3,103.4L245.7,102.7L244.0,101.0L243.6,97.9L243.2,97.6L244.3,95.9L244.9,92.5L244.8,90.5L244.1,89.1L244.8,87.1L246.5,84.4L247.1,82.5L248.8,80.3L250.3,79.6L252.1,77.9L252.3,75.3L253.7,72.9L255.4,72.0ZM315.4,134.3L316.0,138.8L315.2,141.1L313.1,145.8L311.2,151.2L308.7,152.5L307.5,151.7L307.3,147.8L308.8,145.1L308.9,141.4L311.8,139.3L313.7,136.6ZM156.4,35.4L162.6,34.0L165.4,32.6L171.9,31.2L178.5,30.0L179.6,30.4L181.3,31.2L182.8,31.5L185.7,31.6L189.7,31.2L191.4,31.6L193.2,32.1L194.1,33.1L197.1,33.1L200.0,33.1L202.2,33.5L205.8,32.8L212.3,29.6L211.6,30.7L210.4,32.1L214.0,31.6L212.3,34.0L209.7,35.0L205.9,36.5L199.9,38.6L194.9,41.2L192.9,43.9L194.5,44.4L196.3,46.4L196.3,48.9L196.5,50.8L200.3,47.2L203.8,45.0L205.8,42.8L207.2,40.6L209.4,38.6L211.5,39.1L213.3,40.1L213.1,42.8L216.5,40.9L214.8,43.3L215.1,45.5L215.9,47.2L216.5,48.9L216.3,50.6L212.2,52.1L208.8,52.1L206.3,52.9L204.1,53.8L201.9,55.3L206.8,54.1L206.2,55.9L203.8,57.9L205.6,57.9L208.4,57.7L205.5,58.9L202.8,59.9L201.5,59.0L199.2,60.0L197.7,62.0L198.0,62.3L196.4,62.7L193.6,63.7L192.6,65.2L191.2,65.9L189.6,68.0L188.9,70.5L187.1,71.4L185.2,72.3L181.8,74.6L180.7,76.5L180.5,79.2L180.1,81.5L179.2,83.5L178.3,83.4L178.0,81.8L178.0,79.8L178.4,77.9L177.2,77.2L175.9,76.7L173.9,76.7L172.3,76.9L171.8,78.5L170.3,78.1L168.5,77.5L166.5,78.0L163.3,80.1L161.9,82.7L159.8,87.1L159.7,89.1L160.2,91.8L161.5,92.9L164.3,92.3L165.5,91.8L166.9,89.1L170.7,88.4L169.1,92.5L167.5,95.9L169.9,96.1L172.4,97.2L171.6,101.3L171.1,102.7L173.3,105.4L175.5,104.7L177.6,105.8L179.3,104.7L180.0,103.4L181.8,102.4L184.1,100.9L185.0,102.7L184.4,103.4L186.2,101.3L188.2,103.4L192.5,103.2L194.7,103.1L195.6,105.4L198.7,108.2L201.9,109.7L205.1,111.2L206.1,112.3L207.2,115.3L207.1,117.8L208.8,119.2L213.8,121.2L217.0,121.8L219.8,122.9L223.5,125.4L223.9,130.2L221.9,132.9L220.1,135.7L220.4,141.1L219.8,145.1L219.1,147.8L217.2,149.2L215.2,150.1L212.2,153.1L212.7,156.4L211.6,159.7L210.5,162.9L209.6,164.6L207.1,164.6L205.2,164.2L207.3,166.5L207.6,168.9L203.8,169.9L204.5,172.0L202.1,172.4L203.0,174.3L203.7,174.9L204.1,177.3L203.2,178.9L205.3,180.3L205.2,183.6L205.7,185.0L206.8,185.9L206.1,186.7L205.3,187.8L201.6,185.6L197.5,180.9L197.3,178.5L195.6,174.9L194.1,172.4L191.9,167.4L191.4,162.9L190.2,158.4L188.8,153.1L188.7,149.8L187.5,143.1L185.8,141.5L180.1,137.0L178.7,134.3L176.5,130.2L175.2,127.4L173.4,126.1L173.0,123.7L174.3,121.9L173.3,120.6L174.2,117.8L174.1,116.7L175.3,115.7L176.5,114.4L177.2,112.3L177.5,108.9L176.8,107.9L174.3,107.6L173.1,106.8L171.0,106.2L168.9,104.1L169.0,102.4L167.5,99.9L166.0,99.3L163.5,98.6L162.3,96.3L160.9,95.6L158.6,96.3L156.6,95.6L154.3,94.1L151.5,91.8L150.8,89.8L151.8,87.8L151.2,86.2L150.5,83.8L149.8,81.8L149.2,79.8L149.1,76.5L148.1,75.0L147.9,78.5L147.3,81.8L147.5,84.8L148.0,86.2L147.3,85.6L146.0,84.0L145.9,80.5L145.0,79.8L145.9,76.5L146.4,74.0L146.2,72.0L144.7,71.3L145.3,68.7L145.9,67.2L145.9,65.7L146.8,63.9L148.7,62.0L153.8,56.9L156.0,54.2L157.2,54.5L159.1,52.9L158.3,52.0L157.2,51.2L159.7,47.8L161.3,46.1L162.3,44.4L162.3,43.0L162.0,41.6L159.8,41.2L159.0,40.4L154.5,41.7L152.6,42.0L152.0,41.7L146.0,43.9L140.8,45.5L136.5,46.6L133.5,47.2L138.1,45.7L143.5,44.4L147.8,42.6L144.9,42.3L147.4,41.0L146.5,40.3L150.7,38.6L153.5,37.6L158.1,36.5L158.9,36.2L155.7,36.5L154.8,36.4ZM206.9,186.2L211.2,188.8L209.3,189.5L206.4,188.2L206.9,187.3ZM211.8,184.6L214.9,185.0L214.7,185.8L212.7,185.6ZM232.6,24.3L240.0,22.1L243.4,21.4L248.7,21.0L253.9,20.4L255.8,21.4L258.1,21.7L255.4,23.2L253.9,25.1L251.8,27.6L250.3,29.8L248.4,31.2L245.6,32.9L242.9,33.5L238.7,35.5L235.9,36.5L233.4,39.1L231.1,41.2L230.0,40.6L228.6,39.6L228.7,37.5L229.2,35.5L230.0,33.5L232.9,31.6L232.4,30.4L233.8,28.9L235.6,26.3L234.7,25.7L232.5,25.5ZM247.3,37.0L246.9,35.5L248.5,34.6L252.2,34.5L253.2,35.5L252.6,36.6L250.1,37.6L248.2,37.2ZM256.6,69.5L255.9,68.5L254.9,68.0L253.5,68.2L253.7,66.1L253.2,65.1L254.0,62.6L253.6,60.7L254.8,59.9L257.1,60.1L259.3,60.2L260.7,60.2L260.9,57.7L261.0,56.7L260.1,55.7L258.2,54.8L257.9,54.4L259.5,53.8L260.6,53.9L260.9,52.7L262.0,53.1L263.2,52.1L264.1,51.1L264.9,50.7L265.4,50.0L265.8,48.9L266.8,48.3L267.6,48.3L268.7,48.2L268.6,46.3L268.1,44.6L269.9,43.7L269.8,45.0L269.7,46.6L270.6,47.5L271.8,47.3L273.0,47.8L274.5,47.4L276.4,46.9L277.3,47.3L278.2,46.4L278.0,45.0L278.0,44.1L278.7,43.7L280.0,44.4L279.8,43.0L278.9,42.0L280.6,41.6L282.1,41.7L283.2,41.2L282.0,40.5L280.7,40.8L278.4,41.3L277.0,40.3L276.4,38.6L277.1,37.2L277.9,36.0L278.2,35.8L277.1,35.2L276.1,35.2L275.8,36.5L274.6,37.7L273.9,38.8L274.0,40.1L275.3,41.2L275.3,41.9L274.3,43.5L274.5,45.0L273.1,45.5L272.0,46.2L271.6,45.3L270.7,43.3L270.1,42.3L269.5,41.4L268.2,43.1L266.8,43.2L266.0,42.3L265.5,40.1L265.5,38.9L267.0,38.0L267.9,37.0L269.0,36.2L269.8,35.0L270.4,33.5L271.0,32.6L271.9,31.6L272.8,31.1L274.6,30.6L275.9,30.2L277.4,30.3L279.1,31.0L280.7,31.7L282.6,32.1L285.7,33.3L287.2,34.5L284.4,35.0L284.3,36.5L286.3,37.2L288.1,36.4L288.9,34.8L287.7,32.8L289.0,32.9L290.6,33.4L293.1,32.9L293.4,32.3L295.4,32.2L296.9,32.6L296.1,31.4L299.5,31.8L298.9,30.3L297.1,28.6L298.7,28.6L301.0,29.8L301.2,29.1L301.5,28.0L303.9,29.4L306.0,29.8L302.4,28.0L304.1,27.6L301.9,26.7L302.0,26.3L303.6,25.8L304.5,25.5L304.6,24.5L306.2,24.9L309.3,25.3L311.3,25.7L317.6,27.9L320.2,28.0L322.9,27.9L324.6,28.0L328.2,29.0L332.6,30.3L333.3,29.7L333.7,29.1L333.4,28.6L336.8,29.1L341.5,29.8L344.5,30.3L346.6,30.3L349.6,30.7L353.2,31.6L355.8,31.5L356.3,31.1L360.0,31.4L365.5,32.2L376.8,36.0L376.6,36.4L381.4,38.6L381.2,39.3L383.1,41.2L379.4,41.0L378.5,41.4L383.8,44.4L386.3,45.5L387.4,46.6L389.8,48.9L389.5,49.5L390.8,51.2L387.5,49.5L382.7,46.6L378.3,43.9L378.4,43.3L376.0,41.4L375.6,40.6L371.9,39.6L369.5,39.6L373.0,42.0L370.4,41.8L368.5,41.9L364.7,41.8L364.8,42.7L366.9,45.1L369.0,47.2L372.9,48.0L376.7,50.0L381.3,54.1L381.9,56.0L383.4,59.8L381.7,60.7L380.9,61.6L381.5,63.2L381.0,64.4L385.5,68.2L387.1,70.4L385.5,71.3L384.6,71.0L382.3,67.6L380.8,67.2L378.4,64.9L374.9,63.8L376.1,65.8L373.7,63.4L373.3,64.7L372.4,65.7L374.0,66.9L375.4,68.0L376.3,67.2L378.7,68.0L377.9,69.1L377.9,70.7L380.6,73.3L383.0,75.0L384.1,77.2L384.6,77.5L384.8,80.5L384.9,82.7L384.7,84.4L383.4,86.4L381.2,87.4L378.5,88.4L378.5,90.1L377.1,88.4L375.3,88.4L374.4,89.8L374.1,91.8L375.5,93.8L378.4,96.5L380.0,99.9L380.1,102.0L378.2,103.5L376.2,106.0L376.1,104.1L374.4,103.4L372.9,101.3L370.9,100.4L369.8,99.3L369.7,103.4L371.3,106.4L372.9,108.4L374.7,110.2L375.4,112.3L376.3,115.9L375.4,116.0L373.2,113.9L371.8,110.9L369.2,106.8L369.1,104.1L368.2,99.3L366.2,95.2L364.6,95.2L363.2,95.9L362.1,92.5L360.2,90.5L358.5,88.4L357.5,86.8L356.7,87.5L354.8,88.0L353.4,89.1L353.3,90.5L351.8,91.5L350.1,94.5L348.1,96.5L348.6,99.9L348.7,103.6L347.2,105.6L346.5,106.7L345.3,105.6L344.1,102.0L342.2,97.9L340.5,95.2L339.2,91.8L338.2,88.7L337.8,87.4L335.9,89.4L334.2,87.4L335.0,86.6L333.2,85.8L331.8,84.4L330.5,83.2L328.5,83.5L325.4,83.5L322.8,83.2L320.9,82.7L319.7,81.0L317.8,81.5L315.5,80.3L313.8,79.0L312.5,77.2L310.9,76.8L310.2,77.5L311.0,79.2L312.6,81.1L313.4,82.3L314.5,84.0L315.4,84.8L318.0,84.8L319.2,83.1L319.8,82.2L320.3,83.9L321.7,85.4L324.5,87.1L323.6,89.8L323.2,91.8L322.1,93.2L321.0,94.2L317.9,96.3L314.7,98.2L311.1,99.9L309.0,100.4L308.0,97.2L307.5,95.2L305.7,91.8L303.1,88.4L301.9,85.1L300.2,82.7L298.1,79.8L297.1,77.9L296.0,75.5L296.5,73.6L296.6,71.5L296.7,70.1L296.7,68.7L296.0,68.7L294.6,69.1L293.2,69.3L291.2,68.6L289.8,68.7L288.2,68.2L287.0,66.3L286.5,64.4L288.7,63.2L290.5,63.1L293.0,62.0L294.9,62.3L297.0,63.3L300.0,62.6L299.8,61.1L298.0,60.2L295.8,59.0L294.6,58.1L293.3,58.1L291.8,58.9L290.6,57.8L291.5,57.1L289.5,56.4L288.7,56.5L288.2,57.9L287.7,59.5L287.2,61.0L287.6,62.5L288.7,63.1L287.3,63.2L286.5,63.7L286.0,63.4L284.1,63.4L283.3,63.8L282.9,63.8L283.6,65.7L284.7,66.7L284.0,67.1L283.8,68.8L282.7,68.5L282.1,67.3L282.3,66.6L281.2,65.3L280.0,63.8L279.7,62.2L278.8,61.3L276.8,60.1L275.5,59.1L274.8,58.1L274.1,58.2L273.8,57.5L272.8,57.9L273.1,59.3L274.3,60.1L275.7,62.0L276.8,62.2L279.2,64.2L277.7,63.8L277.4,65.1L278.1,65.8L277.1,66.9L276.9,66.9L276.8,65.1L275.7,64.2L274.9,63.4L273.5,62.6L272.0,61.3L271.1,59.6L269.9,59.0L268.7,59.8L267.4,60.6L266.0,60.1L264.7,60.7L264.9,62.0L263.8,62.9L262.7,63.2L262.0,64.7L261.7,66.3L261.2,67.4L260.0,68.6L257.8,68.6ZM158.5,32.2L161.7,31.7L157.9,33.4L157.6,34.1L156.4,35.0L154.3,35.5L149.9,36.7L149.8,36.0L149.0,35.7L147.2,36.0ZM303.7,58.5L304.6,56.5L306.1,55.9L307.9,56.1L308.8,58.1L307.6,58.9L308.0,60.6L310.1,62.0L311.0,63.6L312.7,65.7L313.3,67.8L310.8,68.6L308.6,67.6L307.9,64.2L305.8,62.0L304.9,60.7ZM257.3,52.2L259.1,52.0L261.2,51.5L263.1,51.0L263.4,49.4L262.2,48.4L261.8,47.5L260.8,46.3L260.5,45.6L259.7,45.5L260.1,45.0L260.7,43.8L259.4,43.7L259.8,42.7L258.4,42.7L257.8,43.9L257.5,45.0L257.8,46.1L258.3,46.9L259.5,46.8L259.3,47.4L259.6,48.4L258.4,48.6L258.4,49.1L258.8,49.8L257.7,50.3L258.7,50.5L259.6,50.6L259.1,51.0L258.3,51.1ZM257.0,49.8L257.2,48.3L257.3,47.4L257.6,47.1L257.2,46.4L256.2,46.3L255.4,46.9L254.2,47.5L254.2,48.7L254.8,48.9L253.9,50.0L253.6,50.5L255.5,50.5ZM266.3,23.9L268.4,25.1L269.6,25.1L270.9,24.3L272.3,23.5L270.8,22.6L268.4,22.6L266.0,23.0ZM289.8,29.8L292.6,30.6L293.3,30.3L290.7,28.9L289.5,27.2L290.2,26.3L291.5,25.3L289.7,25.2L288.2,25.9L287.5,26.7L288.6,28.0ZM298.1,23.5L299.4,23.3L301.6,23.5L295.6,22.1L293.7,22.1ZM323.8,26.3L329.7,27.6L331.2,26.7L325.1,25.9ZM373.7,47.8L377.1,49.5L382.9,53.5L383.9,53.5L385.2,55.9L386.2,57.1L383.2,54.7L378.8,51.2L374.7,48.6ZM390.3,62.6L391.0,62.3L392.6,62.0L393.0,60.4L391.3,59.5L386.9,57.7L387.9,58.9L389.6,60.7L389.1,61.3ZM391.2,62.6L393.0,63.8L395.2,65.7L395.2,66.7L397.1,68.8L397.7,69.9L397.6,70.9L396.7,71.3L395.2,71.3L395.3,71.6L394.8,72.7L393.3,71.3L392.0,71.5L391.0,72.2L390.0,72.0L389.8,71.1L390.4,70.0L392.8,70.0L392.1,67.8L393.6,67.6L393.5,66.3L391.8,64.1ZM389.4,72.5L390.1,72.2L392.1,74.0L392.6,75.9L391.6,75.5L390.0,73.7ZM392.4,73.3L392.5,71.5L393.6,72.0L393.6,72.9L393.0,73.6ZM386.8,83.5L388.0,83.8L388.7,86.4L388.5,87.9L387.2,86.4L386.7,84.4ZM377.0,91.5L378.1,90.3L379.4,91.0L379.3,92.5L378.0,92.8ZM390.1,92.5L391.8,92.5L392.4,94.5L392.3,96.5L393.4,98.6L395.9,99.9L394.6,99.3L392.4,98.9L391.6,97.8L390.5,95.9L390.3,93.8ZM395.2,108.2L396.7,107.1L398.3,104.6L400.1,107.5L399.7,109.1L399.2,110.1L397.8,109.3L395.5,108.4ZM396.6,100.6L398.2,102.3L397.9,104.1L396.9,103.6ZM394.1,101.6L395.7,103.0L395.9,105.1L395.1,104.3L394.4,103.1ZM389.7,106.2L391.5,102.3L391.4,103.4L390.1,106.4ZM381.6,115.7L382.2,115.0L384.3,114.1L386.4,113.4L388.4,110.9L389.6,108.3L390.7,109.5L392.4,110.5L391.2,111.9L390.8,113.3L392.0,116.4L390.9,117.1L389.9,119.9L389.7,122.6L387.5,123.0L385.9,122.2L384.2,121.9L382.8,121.8L382.7,119.9L381.6,117.8ZM366.3,110.1L368.7,110.6L372.0,114.4L373.3,115.0L375.6,117.1L376.6,119.9L378.2,121.9L377.7,125.8L376.3,125.8L374.1,123.3L372.8,120.6L371.2,117.8L370.0,115.0L368.3,112.6ZM376.9,127.2L377.9,126.1L380.4,126.5L382.7,127.3L385.0,127.3L386.9,128.5L386.6,129.6L383.0,129.1L380.4,128.5L378.3,128.0ZM388.5,129.2L391.7,129.2L391.6,129.9L388.3,130.2ZM392.5,129.6L396.1,129.2L396.0,130.0L392.7,130.2ZM396.8,131.5L398.1,130.2L400.4,129.4L398.0,131.0ZM392.3,121.7L392.7,125.4L393.7,125.5L394.0,121.4L394.8,124.4L396.1,124.3L395.0,122.9L394.7,121.4L396.3,119.2L397.3,118.9L394.7,119.6L393.9,117.8L393.8,117.1L395.5,116.4L398.6,116.1L399.2,115.7L398.5,117.1L394.5,117.2L393.4,117.8L393.0,120.6ZM401.9,115.3L403.0,115.7L402.4,117.8L403.0,118.9L402.0,118.2ZM402.3,122.2L405.4,122.6L404.4,123.2L402.5,122.8ZM405.7,119.6L407.9,118.9L409.2,119.2L410.5,122.3L413.2,119.9L416.6,121.4L420.3,123.0L421.7,125.4L423.3,126.1L423.4,128.8L424.9,132.0L422.8,131.8L421.2,129.1L419.1,128.3L417.4,130.6L415.5,130.5L413.6,128.9L412.4,129.4L413.4,126.7L412.0,124.4L410.2,123.9L407.7,123.3L406.7,121.7L408.4,121.0L406.8,120.8ZM424.5,125.4L426.2,125.0L428.5,124.0L428.3,125.4L426.0,126.3ZM427.0,121.2L428.6,122.2L429.6,124.0L429.0,124.0L427.5,121.9ZM433.0,127.2L434.4,128.1L436.6,130.9L437.4,132.0L435.9,131.4L433.7,129.1ZM435.0,145.4L436.6,148.2L436.0,148.4L435.0,145.9ZM450.9,141.8L452.4,141.5L451.5,142.7L450.6,142.4ZM380.7,147.8L381.7,147.6L384.9,145.9L387.6,145.1L390.0,144.5L392.2,141.8L393.8,141.1L396.2,138.4L398.8,137.0L400.1,138.1L401.2,138.2L402.6,135.7L403.7,134.6L405.5,134.4L407.0,134.3L409.5,134.4L410.1,134.7L407.5,138.4L408.7,139.7L410.5,141.6L411.7,141.9L414.0,138.4L415.2,135.0L416.7,132.5L417.1,135.0L416.7,137.4L418.0,138.4L417.6,141.8L417.2,144.1L418.9,145.7L418.9,148.2L419.4,149.8L420.0,151.8L417.6,156.4L414.6,159.7L410.8,162.5L408.4,164.6L404.6,168.0L402.5,168.4L399.3,169.9L399.2,168.5L396.9,169.7L395.1,168.7L394.9,167.8L396.4,165.9L395.2,165.6L396.8,164.2L398.1,161.6L396.1,163.2L393.7,165.4L393.7,164.6L394.3,161.9L392.2,160.3L388.1,161.4L384.0,162.3L380.9,163.3L377.1,164.6L374.8,164.1L374.7,163.1L376.6,161.0L377.8,157.7L379.0,153.8L378.7,152.9L380.1,150.5ZM395.7,172.0L398.7,172.3L396.9,173.9L393.9,175.6L394.1,174.3ZM430.2,164.1L430.5,165.5L429.5,167.4L431.4,168.3L428.2,170.2L425.3,171.8L422.5,173.1L422.5,172.7L424.9,171.2L424.6,170.3L427.2,168.7L429.0,166.8L429.5,165.1ZM421.8,171.8L421.5,173.3L418.4,174.9L416.7,175.8L414.2,176.7L411.3,178.4L408.8,179.2L407.6,178.5L409.4,177.3L412.4,176.1L416.1,174.7L419.8,172.9ZM348.9,104.3L350.5,106.1L351.3,107.5L351.2,109.0L350.1,109.7L349.3,108.4L348.9,106.5ZM173.1,87.9L174.3,86.8L176.6,86.2L178.6,86.4L180.8,88.0L182.5,89.0L183.8,90.2L180.1,90.6L180.2,89.5L179.7,88.3L177.7,87.8L176.2,87.4L174.6,87.5ZM183.0,92.5L185.2,90.6L188.0,90.9L189.4,92.3L187.6,92.9L185.9,93.7L184.9,92.9L182.9,92.8ZM178.8,92.6L180.9,92.9L180.0,93.6ZM190.6,92.5L192.3,92.6L191.8,93.2L190.5,93.2ZM216.7,55.3L215.5,56.4L214.0,55.9L211.1,55.2L212.7,53.5L215.0,51.5L216.8,50.5L215.5,52.6L217.0,53.2ZM157.0,54.2L156.1,53.5L156.3,51.4L156.9,51.8L157.4,52.9ZM218.5,38.6L224.1,34.4L223.9,33.4L223.8,31.9L224.2,30.9L223.5,30.3L223.5,29.0L222.5,28.6L222.4,27.9L218.6,28.3L217.0,29.8L214.5,31.0L216.4,31.4L217.7,31.6L215.3,33.5L215.4,35.5L214.4,36.4L211.6,36.8L213.5,36.6L214.4,38.2L215.8,38.9L216.8,39.3ZM205.5,37.0L209.0,37.4L210.0,36.3L208.5,35.5L206.5,36.0ZM194.3,32.1L196.8,32.6L201.2,32.1L204.3,31.8L206.3,30.6L206.4,29.8L207.7,28.5L205.2,28.9L204.8,28.2L201.3,28.9L198.5,30.0L197.5,30.9ZM196.4,29.4L200.8,28.0L204.6,27.3L204.4,28.2L200.4,29.2L196.5,30.0ZM208.8,26.3L210.0,26.7L214.0,26.2L215.3,25.7L213.2,25.6L210.5,25.7ZM211.2,28.5L214.3,27.9L211.7,29.4L209.0,29.8ZM214.6,28.3L218.2,27.6L215.9,28.9L213.3,29.4ZM222.1,25.5L227.3,25.5L224.1,27.2L218.7,27.0ZM223.4,25.5L225.2,25.7L228.5,25.3L232.0,23.7L234.7,23.2L237.8,22.4L241.4,21.7L243.1,21.2L242.2,20.7L239.3,20.7L233.0,21.7L230.2,22.4L228.5,23.5L225.8,24.3ZM222.8,24.7L227.5,23.9L231.9,21.8L227.3,22.8ZM96.8,91.8L98.2,91.1L97.6,90.2L96.9,91.0ZM97.1,89.3L97.8,89.4L97.3,89.7ZM96.0,88.3L96.4,88.7L96.0,88.7ZM273.7,66.9L276.7,66.6L276.4,68.6L273.9,67.4ZM269.6,63.2L271.0,63.3L271.0,65.6L269.9,65.7ZM269.8,60.9L270.6,61.0L270.4,62.7L269.9,62.1ZM284.7,70.1L287.5,70.5L285.8,70.9ZM293.3,70.7L295.4,70.0L294.6,71.3ZM146.6,44.2L149.7,43.4L149.7,43.1L147.8,43.5ZM148.5,37.6L149.8,37.8L150.6,37.3ZM189.6,211.3L194.7,211.5L199.4,211.7L200.0,210.9L196.1,209.3L198.0,208.4L201.1,207.8L206.4,208.0L212.8,208.7L211.7,207.1L216.4,207.0L222.2,207.4L222.9,206.2L221.9,203.5L220.8,201.1L221.2,199.6L224.2,197.9L223.9,199.1L224.5,201.1L225.3,203.0L228.9,205.3L231.9,207.6L231.8,208.9L235.7,210.5L237.9,211.3L242.4,211.7L243.9,211.3L247.5,211.3L249.3,210.5L250.6,209.3L253.0,207.1L255.6,205.8L259.3,205.3L264.8,204.7L270.3,204.4L275.8,204.7L280.6,204.0L284.0,204.0L288.9,202.1L295.8,201.1L300.9,202.1L302.7,203.0L302.1,204.4L305.0,203.5L309.9,202.1L317.3,201.1L324.2,200.6L330.4,200.6L335.1,201.4L342.5,200.8L347.5,201.3L349.3,203.0L351.0,204.4L351.5,205.3L350.6,206.2L345.4,207.6L335.3,209.7L331.0,210.9L329.3,211.5L334.4,211.3L262.0,218.3L262.0,218.3Z" fill="none" stroke="#000" stroke-width="1.05" stroke-linejoin="round"/>
</g>
<ellipse cx="262.0" cy="117.8" rx="197.5" ry="100.5" fill="none" stroke="#000" stroke-width="0.8"/>
<path d="M94.0,230.9L75.7,240.25L94.0,249.6Z" fill="#053061"/>
<path d="M429.8,230.9L448.1,240.25L429.8,249.6Z" fill="#67001f"/>
<rect x="92.50" y="230.9" width="6.00" height="18.70" fill="#073467"/>
<rect x="98.15" y="230.9" width="6.00" height="18.70" fill="#0c3d73"/>
<rect x="103.79" y="230.9" width="6.00" height="18.70" fill="#10457e"/>
<rect x="109.44" y="230.9" width="6.00" height="18.70" fill="#144e8a"/>
<rect x="115.09" y="230.9" width="6.00" height="18.70" fill="#1a5899"/>
<rect x="120.73" y="230.9" width="6.00" height="18.70" fill="#1e61a5"/>
<rect x="126.38" y="230.9" width="6.00" height="18.70" fill="#2369ad"/>
<rect x="132.03" y="230.9" width="6.00" height="18.70" fill="#2a71b2"/>
<rect x="137.67" y="230.9" width="6.00" height="18.70" fill="#2f79b5"/>
<rect x="143.32" y="230.9" width="6.00" height="18.70" fill="#3480b9"/>
<rect x="148.97" y="230.9" width="6.00" height="18.70" fill="#3a87bd"/>
<rect x="154.61" y="230.9" width="6.00" height="18.70" fill="#408fc1"/>
<rect x="160.26" y="230.9" width="6.00" height="18.70" fill="#4997c5"/>
<rect x="165.91" y="230.9" width="6.00" height="18.70" fill="#569fc9"/>
<rect x="171.55" y="230.9" width="6.00" height="18.70" fill="#62a7ce"/>
<rect x="177.20" y="230.9" width="6.00" height="18.70" fill="#71b0d3"/>
<rect x="182.85" y="230.9" width="6.00" height="18.70" fill="#7eb8d7"/>
<rect x="188.49" y="230.9" width="6.00" height="18.70" fill="#8ac0db"/>
<rect x="194.14" y="230.9" width="6.00" height="18.70" fill="#96c7df"/>
<rect x="199.79" y="230.9" width="6.00" height="18.70" fill="#a2cde3"/>
<rect x="205.43" y="230.9" width="6.00" height="18.70" fill="#acd2e5"/>
<rect x="211.08" y="230.9" width="6.00" height="18.70" fill="#b6d7e8"/>
<rect x="216.73" y="230.9" width="6.00" height="18.70" fill="#c2ddec"/>
<rect x="222.37" y="230.9" width="6.00" height="18.70" fill="#cce2ef"/>
<rect x="228.02" y="230.9" width="6.00" height="18.70" fill="#d4e6f1"/>
<rect x="233.67" y="230.9" width="6.00" height="18.70" fill="#dae9f2"/>
<rect x="239.31" y="230.9" width="6.00" height="18.70" fill="#e1edf3"/>
<rect x="244.96" y="230.9" width="6.00" height="18.70" fill="#e7f0f4"/>
<rect x="250.61" y="230.9" width="6.00" height="18.70" fill="#edf2f5"/>
<rect x="256.25" y="230.9" width="6.00" height="18.70" fill="#f3f5f6"/>
<rect x="261.90" y="230.9" width="6.00" height="18.70" fill="#f8f4f2"/>
<rect x="267.55" y="230.9" width="6.00" height="18.70" fill="#f9f0eb"/>
<rect x="273.19" y="230.9" width="6.00" height="18.70" fill="#f9ebe3"/>
<rect x="278.84" y="230.9" width="6.00" height="18.70" fill="#fae7dc"/>
<rect x="284.49" y="230.9" width="6.00" height="18.70" fill="#fce2d2"/>
<rect x="290.13" y="230.9" width="6.00" height="18.70" fill="#fdddcb"/>
<rect x="295.78" y="230.9" width="6.00" height="18.70" fill="#fcd7c2"/>
<rect x="301.43" y="230.9" width="6.00" height="18.70" fill="#fbccb4"/>
<rect x="307.07" y="230.9" width="6.00" height="18.70" fill="#f9c4a9"/>
<rect x="312.72" y="230.9" width="6.00" height="18.70" fill="#f8bb9e"/>
<rect x="318.37" y="230.9" width="6.00" height="18.70" fill="#f6b394"/>
<rect x="324.01" y="230.9" width="6.00" height="18.70" fill="#f5a886"/>
<rect x="329.66" y="230.9" width="6.00" height="18.70" fill="#f19e7d"/>
<rect x="335.31" y="230.9" width="6.00" height="18.70" fill="#ec9374"/>
<rect x="340.95" y="230.9" width="6.00" height="18.70" fill="#e8896c"/>
<rect x="346.60" y="230.9" width="6.00" height="18.70" fill="#e27b62"/>
<rect x="352.25" y="230.9" width="6.00" height="18.70" fill="#dd7059"/>
<rect x="357.89" y="230.9" width="6.00" height="18.70" fill="#d86551"/>
<rect x="363.54" y="230.9" width="6.00" height="18.70" fill="#d35a4a"/>
<rect x="369.19" y="230.9" width="6.00" height="18.70" fill="#cc4c44"/>
<rect x="374.83" y="230.9" width="6.00" height="18.70" fill="#c6413e"/>
<rect x="380.48" y="230.9" width="6.00" height="18.70" fill="#c13639"/>
<rect x="386.13" y="230.9" width="6.00" height="18.70" fill="#ba2832"/>
<rect x="391.77" y="230.9" width="6.00" height="18.70" fill="#b41c2d"/>
<rect x="397.42" y="230.9" width="6.00" height="18.70" fill="#ab162a"/>
<rect x="403.07" y="230.9" width="6.00" height="18.70" fill="#9f1228"/>
<rect x="408.71" y="230.9" width="6.00" height="18.70" fill="#900d26"/>
<rect x="414.36" y="230.9" width="6.00" height="18.70" fill="#840924"/>
<rect x="420.01" y="230.9" width="6.00" height="18.70" fill="#790622"/>
<rect x="425.65" y="230.9" width="5.65" height="18.70" fill="#6d0220"/>
<path d="M92.5,230.9L75.7,240.25L92.5,249.6L431.3,249.6L448.1,240.25L431.3,230.9Z" fill="none" stroke="#000" stroke-width="0.6"/>
<text x="104.36" y="260.2" font-size="7.55" text-anchor="middle" fill="#000" textLength="15.62" lengthAdjust="spacingAndGlyphs">−28</text>
<text x="143.77" y="260.2" font-size="7.55" text-anchor="middle" fill="#000" textLength="15.62" lengthAdjust="spacingAndGlyphs">−21</text>
<text x="183.18" y="260.2" font-size="7.55" text-anchor="middle" fill="#000" textLength="15.62" lengthAdjust="spacingAndGlyphs">−14</text>
<text x="222.59" y="260.2" font-size="7.55" text-anchor="middle" fill="#000" textLength="10.91" lengthAdjust="spacingAndGlyphs">−7</text>
<text x="262.00" y="260.2" font-size="7.55" text-anchor="middle" fill="#000" textLength="4.71" lengthAdjust="spacingAndGlyphs">0</text>
<text x="301.41" y="260.2" font-size="7.55" text-anchor="middle" fill="#000" textLength="4.71" lengthAdjust="spacingAndGlyphs">7</text>
<text x="340.82" y="260.2" font-size="7.55" text-anchor="middle" fill="#000" textLength="9.42" lengthAdjust="spacingAndGlyphs">14</text>
<text x="380.23" y="260.2" font-size="7.55" text-anchor="middle" fill="#000" textLength="9.42" lengthAdjust="spacingAndGlyphs">21</text>
<text x="419.64" y="260.2" font-size="7.55" text-anchor="middle" fill="#000" textLength="9.42" lengthAdjust="spacingAndGlyphs">28</text>
<path d="M104.36,249.6L104.36,252.2M143.77,249.6L143.77,252.2M183.18,249.6L183.18,252.2M222.59,249.6L222.59,252.2M262.00,249.6L262.00,252.2M301.41,249.6L301.41,252.2M340.82,249.6L340.82,252.2M380.23,249.6L380.23,252.2M419.64,249.6L419.64,252.2" stroke="#000" stroke-width="0.6"/>
<text x="261.7" y="271.2" font-size="8.48" text-anchor="middle" textLength="94.1" lengthAdjust="spacingAndGlyphs">Percent Difference (%)</text>
<path d="M83.84,318.9L83.84,402.4M143.21,318.9L143.21,402.4M202.58,318.9L202.58,402.4M261.95,318.9L261.95,402.4M321.33,318.9L321.33,402.4M380.70,318.9L380.70,402.4M440.07,318.9L440.07,402.4M29.46,374.57L494.45,374.57M29.46,346.73L494.45,346.73" stroke="#d2d2d2" stroke-width="0.7" stroke-dasharray="1.7,1.2"/>
<path d="M50.4,360.4L55.6,367.2L60,366.4L64.8,370.2L69.6,373L74.4,376L79.2,373.4L83.7,376.8L88.5,374.2L93.6,374.4L97.8,373.4L102.6,376.4L107.2,375.8L112,376.4L117.4,375.2L122.2,373.2L127,372L131.4,372.5L136,375.4L140.8,379L145.4,381.2L150.4,379.6L155.2,378.8L159.8,378.6L164.6,379L169.4,380.6L174.2,380.4L178.8,382L183.6,379.8L188.4,377.4L193.2,376.8L197.6,373.2L202.4,373.4L207.2,373.9L211.4,375.4L216,377.4L221.4,379L226.2,378.2L231,379.2L235.8,378.8L240.6,379.4L245.4,378.6L250.2,379.6L255,379.6L259.4,378.4L264,380.6L269.2,380L273.6,380L278.2,377.8L283,376.2L287.8,378.2L292.6,375L297.4,371.4L301.6,371.6L306.4,373.8L311.2,375.4L316,375L320.8,374.4L326,379L330.8,376.6L335.6,379.8L340.4,379.8L345.2,378L349.4,377.4L354.6,373.8L359,374.4L363.8,374.6L368.6,376.2L373.4,374.6L378,376.5L382.8,377.8L387.6,381.6L392.4,382.8L397.2,380.6L402,381.6L406.8,374.4L411.6,373L416.4,372L421.2,372.4L425.4,370.4L430.4,374.2L434.9,374L439.8,370L444.7,367.2L449.6,360L454.5,352.7L459.4,349.9L463.6,345.7L468.5,339L473.6,333.7" fill="none" stroke="#ff0000" stroke-width="1.2" stroke-linejoin="round"/>
<rect x="29.46" y="318.9" width="464.99" height="83.50" fill="none" stroke="#333" stroke-width="0.7"/>
<text x="83.84" y="413.1" font-size="7.55" text-anchor="middle" textLength="15.62" lengthAdjust="spacingAndGlyphs">−75</text>
<text x="143.21" y="413.1" font-size="7.55" text-anchor="middle" textLength="15.62" lengthAdjust="spacingAndGlyphs">−50</text>
<text x="202.58" y="413.1" font-size="7.55" text-anchor="middle" textLength="15.62" lengthAdjust="spacingAndGlyphs">−25</text>
<text x="261.95" y="413.1" font-size="7.55" text-anchor="middle" textLength="4.71" lengthAdjust="spacingAndGlyphs">0</text>
<text x="321.33" y="413.1" font-size="7.55" text-anchor="middle" textLength="9.42" lengthAdjust="spacingAndGlyphs">25</text>
<text x="380.70" y="413.1" font-size="7.55" text-anchor="middle" textLength="9.42" lengthAdjust="spacingAndGlyphs">50</text>
<text x="440.07" y="413.1" font-size="7.55" text-anchor="middle" textLength="9.42" lengthAdjust="spacingAndGlyphs">75</text>
<text x="24.9" y="405.20" font-size="7.55" text-anchor="end" textLength="4.71" lengthAdjust="spacingAndGlyphs">0</text>
<text x="24.9" y="377.37" font-size="7.55" text-anchor="end" textLength="4.71" lengthAdjust="spacingAndGlyphs">5</text>
<text x="24.9" y="349.53" font-size="7.55" text-anchor="end" textLength="9.42" lengthAdjust="spacingAndGlyphs">10</text>
<text x="24.9" y="321.70" font-size="7.55" text-anchor="end" textLength="9.42" lengthAdjust="spacingAndGlyphs">15</text>
<path d="M83.84,402.4L83.84,404.9M143.21,402.4L143.21,404.9M202.58,402.4L202.58,404.9M261.95,402.4L261.95,404.9M321.33,402.4L321.33,404.9M380.70,402.4L380.70,404.9M440.07,402.4L440.07,404.9M29.46,402.40L26.96,402.40M29.46,374.57L26.96,374.57M29.46,346.73L26.96,346.73M29.46,318.90L26.96,318.90" stroke="#333" stroke-width="0.7"/>
<text x="262" y="423.8" font-size="8.48" text-anchor="middle" textLength="34.28" lengthAdjust="spacingAndGlyphs">Latitude</text>
<text transform="translate(11.3,360.5) rotate(-90)" x="0" y="0" font-size="8.48" text-anchor="middle" textLength="94.1" lengthAdjust="spacingAndGlyphs">Percent Difference (%)</text>
</svg></body></html>
